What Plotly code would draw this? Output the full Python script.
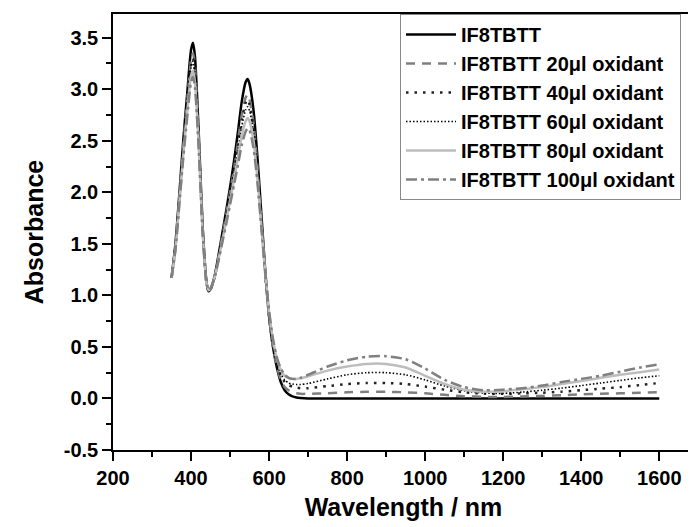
import plotly.graph_objects as go

wavelength = [350, 360, 370, 380, 390, 400, 405, 410, 420, 430,
              440, 445, 450, 460, 470, 480, 490, 500, 510, 520,
              530, 540, 545, 550, 560, 570, 580, 590, 600, 610,
              620, 630, 640, 650, 660, 670, 680, 700, 750, 800,
              850, 900, 950, 1000, 1050, 1100, 1150, 1200, 1250, 1300,
              1350, 1400, 1450, 1500, 1550, 1600]

abs_0 = [1.17, 1.50, 1.98, 2.50, 2.95, 3.38, 3.45, 3.32, 2.55, 1.65,
         1.12, 1.04, 1.06, 1.18, 1.38, 1.60, 1.82, 2.05, 2.30, 2.58,
         2.88, 3.07, 3.10, 3.05, 2.80, 2.35, 1.80, 1.25, 0.80, 0.50,
         0.30, 0.16, 0.08, 0.04, 0.02, 0.01, 0.005, 0.0, 0.0, 0.0,
         0.0, 0.0, 0.0, 0.0, 0.0, 0.0, 0.0, 0.0, 0.0, 0.0,
         0.0, 0.0, 0.0, 0.0, 0.0, 0.0]

abs_20 = [1.17, 1.48, 1.95, 2.45, 2.88, 3.28, 3.35, 3.22, 2.50, 1.63,
          1.11, 1.04, 1.06, 1.17, 1.36, 1.57, 1.78, 2.00, 2.22, 2.48,
          2.75, 2.92, 2.95, 2.90, 2.67, 2.25, 1.73, 1.22, 0.80, 0.50,
          0.31, 0.18, 0.11, 0.08, 0.06, 0.05, 0.045, 0.045, 0.05, 0.06,
          0.065, 0.065, 0.06, 0.05, 0.035, 0.022, 0.015, 0.015, 0.02, 0.025,
          0.032, 0.04, 0.045, 0.05, 0.055, 0.06]

abs_40 = [1.17, 1.47, 1.93, 2.42, 2.85, 3.24, 3.30, 3.18, 2.48, 1.62,
          1.11, 1.04, 1.06, 1.17, 1.35, 1.56, 1.77, 1.98, 2.20, 2.45,
          2.70, 2.87, 2.90, 2.85, 2.63, 2.22, 1.72, 1.22, 0.80, 0.52,
          0.34, 0.22, 0.16, 0.13, 0.115, 0.105, 0.10, 0.10, 0.12, 0.14,
          0.15, 0.15, 0.14, 0.115, 0.085, 0.06, 0.047, 0.045, 0.05, 0.056,
          0.066, 0.08, 0.095, 0.11, 0.13, 0.15]

abs_60 = [1.17, 1.46, 1.92, 2.40, 2.83, 3.21, 3.27, 3.15, 2.46, 1.61,
          1.11, 1.04, 1.06, 1.17, 1.35, 1.55, 1.75, 1.96, 2.17, 2.40,
          2.64, 2.80, 2.83, 2.79, 2.58, 2.19, 1.71, 1.22, 0.82, 0.54,
          0.36, 0.24, 0.18, 0.15, 0.14, 0.135, 0.135, 0.145, 0.19, 0.23,
          0.25, 0.25, 0.23, 0.18, 0.12, 0.075, 0.052, 0.05, 0.062, 0.08,
          0.10, 0.125, 0.15, 0.175, 0.20, 0.22]

abs_80 = [1.17, 1.45, 1.90, 2.36, 2.77, 3.13, 3.18, 3.07, 2.42, 1.60,
          1.11, 1.05, 1.07, 1.17, 1.34, 1.53, 1.72, 1.92, 2.12, 2.33,
          2.55, 2.69, 2.72, 2.69, 2.50, 2.14, 1.69, 1.23, 0.84, 0.57,
          0.39, 0.28, 0.22, 0.20, 0.19, 0.19, 0.195, 0.215, 0.27, 0.31,
          0.335, 0.335, 0.30, 0.22, 0.14, 0.085, 0.065, 0.07, 0.09, 0.11,
          0.14, 0.17, 0.20, 0.23, 0.255, 0.28]

abs_100 = [1.17, 1.44, 1.88, 2.33, 2.72, 3.07, 3.12, 3.02, 2.40, 1.59,
           1.11, 1.05, 1.07, 1.17, 1.33, 1.51, 1.69, 1.88, 2.07, 2.26,
           2.46, 2.59, 2.62, 2.60, 2.43, 2.10, 1.67, 1.23, 0.85, 0.58,
           0.40, 0.29, 0.23, 0.20, 0.19, 0.19, 0.20, 0.23, 0.31, 0.37,
           0.405, 0.41, 0.38, 0.29, 0.18, 0.11, 0.08, 0.085, 0.10, 0.125,
           0.16, 0.19, 0.22, 0.26, 0.30, 0.33]

series_names = ["IF8TBTT", "IF8TBTT 20μl oxidant", "IF8TBTT 40μl oxidant",
                "IF8TBTT 60μl oxidant", "IF8TBTT 80μl oxidant", "IF8TBTT 100μl oxidant"]
series_values = [abs_0, abs_20, abs_40, abs_60, abs_80, abs_100]
styles = [
    dict(color="#000000", width=2.5, dash="solid"),
    dict(color="#7f7f7f", width=2.5, dash="9px,7px"),
    dict(color="#222222", width=2.5, dash="2.5px,6px"),
    dict(color="#000000", width=1.6, dash="1.5px,2px"),
    dict(color="#bdbdbd", width=2.5, dash="solid"),
    dict(color="#808080", width=2.5, dash="11px,4px,3px,4px"),
]

fig = go.Figure()
for name, vals, st in zip(series_names, series_values, styles):
    fig.add_trace(go.Scatter(x=wavelength, y=vals, mode="lines", name=name,
                             line=dict(shape="spline", smoothing=0.7, **st)))

font_family = "Liberation Sans, Arial, sans-serif"
axis_common = dict(showline=True, linecolor="black", linewidth=1.5, mirror=True,
                   showgrid=False, zeroline=False, ticks="outside", ticklen=9,
                   tickwidth=1.5, tickcolor="black", automargin=False,
                   tickfont=dict(family=font_family, size=20, color="black", weight="bold"))

# page body adds an 8px offset; figure sized/margined to compensate
fig.update_layout(
    template="none",
    width=688, height=519,
    margin=dict(l=105, r=2, t=6, b=77),
    paper_bgcolor="white", plot_bgcolor="white",
    showlegend=True,
    legend=dict(x=(400 - 113) / (694 - 113), y=1, xanchor="left", yanchor="top",
                bgcolor="white", bordercolor="#888888", borderwidth=1,
                itemwidth=50, tracegroupgap=0,
                font=dict(family=font_family, size=20, color="black", weight="bold")),
    xaxis=dict(range=[200, 1689], tickmode="array",
               tickvals=[200, 400, 600, 800, 1000, 1200, 1400, 1600],
               minor=dict(ticks="outside", ticklen=5, tickwidth=1.5, tickcolor="black",
                          dtick=100, tick0=200),
               title=dict(text="Wavelength / nm", standoff=11,
                          font=dict(family=font_family, size=25, color="black", weight="bold")),
               **axis_common),
    yaxis=dict(range=[-0.5, 3.73], tickmode="array",
               tickvals=[-0.5, 0, 0.5, 1, 1.5, 2, 2.5, 3, 3.5],
               ticktext=["-0.5", "0.0", "0.5", "1.0", "1.5", "2.0", "2.5", "3.0", "3.5"],
               minor=dict(ticks="outside", ticklen=5, tickwidth=1.5, tickcolor="black",
                          dtick=0.25, tick0=-0.5),
               title=dict(text="Absorbance", standoff=13,
                          font=dict(family=font_family, size=25, color="black", weight="bold")),
               **axis_common),
)

fig.write_html("out.html")
